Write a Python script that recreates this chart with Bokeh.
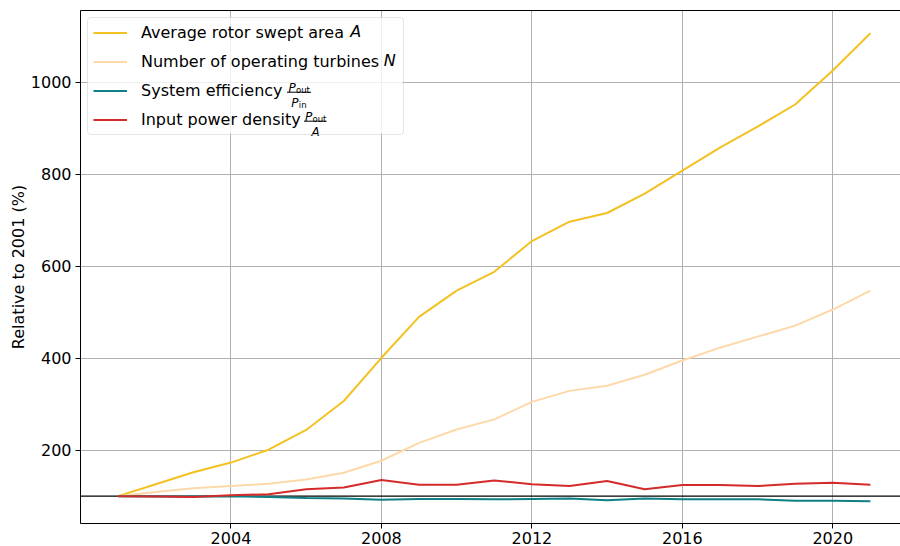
from bokeh.plotting import figure
from bokeh.models import (Range1d, FixedTicker, LinearAxis, Legend, LegendItem, Label, Arrow, Span,
                          BoxAnnotation)
from bokeh.embed import file_html
from bokeh.resources import INLINE

# ---------------- data ----------------
years = list(range(2001, 2022))
swept_area = [100, 126, 152, 173, 201, 244, 307, 401, 490, 547, 588, 655, 697, 716, 758, 808, 858, 904, 952, 1026, 1107]
turbines = [100, 109, 117, 122, 127, 136, 151, 177, 216, 245, 267, 305, 329, 340, 364, 395, 423, 447, 471, 506, 547]
efficiency = [100, 99, 99, 100, 98, 96, 95, 92, 94, 94, 93, 94, 95, 91, 95, 93, 93, 93, 90, 90, 89]
power_density = [100, 99, 98, 102, 104, 115, 119, 135, 125, 125, 134, 126, 122, 133, 115, 124, 124, 122, 127, 129, 125]
x_ticks = [2004, 2008, 2012, 2016, 2020]
y_ticks = [200, 400, 600, 800, 1000]
series_labels = ["Average rotor swept area", "Number of operating turbines",
                 "System efficiency", "Input power density"]
colors = ["#f3c121", "#fdd9a9", "#0f8086", "#d42a2a"]
y_label = "Relative to 2001 (%)"

# ---------------- layout ----------------
X0, X1 = 2000.0, 2021.8
Y0, Y1 = 40.5, 1156.5
W, H = 900, 546
FL, FT = 80, 10
FW = W - FL
FH = 513.5
FONT = "DejaVu Sans"


def dx(px):
    return X0 + px * (X1 - X0) / FW


def dy(py):
    return Y1 - py * (Y1 - Y0) / FH


p = figure(width=W, height=H, output_backend="svg", toolbar_location=None,
           x_range=Range1d(X0, X1), y_range=Range1d(Y0, Y1),
           min_border_left=FL, min_border_right=0, min_border_top=FT, min_border_bottom=0)
p.outline_line_color = None

bottom_axis = p.below[0]
left_axis = p.left[0]
bottom_axis.ticker = FixedTicker(ticks=x_ticks)
left_axis.ticker = FixedTicker(ticks=y_ticks)
p.xgrid.ticker = FixedTicker(ticks=x_ticks)
p.ygrid.ticker = FixedTicker(ticks=y_ticks)
for ax in (bottom_axis, left_axis):
    ax.major_tick_out = 5
    ax.major_tick_in = 0
    ax.minor_tick_out = 0
    ax.minor_tick_in = 0
    ax.axis_line_color = "black"
    ax.axis_line_width = 1
    ax.major_tick_line_color = "black"
    ax.major_label_text_font = FONT
    ax.major_label_text_font_size = "16px"
    ax.major_label_text_color = "black"
    ax.major_label_standoff = 4
bottom_axis.major_label_standoff = 3
left_axis.axis_label = y_label
left_axis.axis_label_text_font = FONT
left_axis.axis_label_text_font_size = "16px"
left_axis.axis_label_text_font_style = "normal"
left_axis.axis_label_text_color = "black"
left_axis.axis_label_standoff = 0

top_axis = LinearAxis(ticker=FixedTicker(ticks=[]), major_label_text_font_size="0px",
                      major_tick_out=0, major_tick_in=0, minor_tick_out=0, minor_tick_in=0,
                      major_label_standoff=0, axis_line_color="black", axis_line_width=1)
p.add_layout(top_axis, "above")

p.grid.grid_line_color = "#b0b0b0"
p.grid.grid_line_width = 1

p.add_layout(Span(location=100, dimension="width", line_color="black", line_width=1.3, level="underlay"))

renderers = []
for vals, col in zip([swept_area, turbines, efficiency, power_density], colors):
    renderers.append(p.line(years, vals, line_color=col, line_width=2))

MARGIN, PAD, GW, STANDOFF, ROWH, SPACING, LW = 7, 5, 34, 14, 19, 10, 257
LEG_W = PAD + GW + STANDOFF + LW + PAD
LEG_H = PAD + 4 * ROWH + 3 * SPACING + PAD

# semi-transparent legend background, drawn separately so the extra label parts stay on top
bg = BoxAnnotation(left=dx(MARGIN), right=dx(MARGIN + LEG_W), top=dy(MARGIN), bottom=dy(MARGIN + LEG_H),
                   fill_color="white", fill_alpha=0.8, line_color=None)
if "border_radius" in BoxAnnotation.properties():
    bg.border_radius = 4
p.add_layout(bg)

legend = Legend(items=[LegendItem(label=lab, renderers=[r]) for lab, r in zip(series_labels, renderers)],
                location="top_left", margin=MARGIN, padding=PAD, spacing=SPACING,
                glyph_width=GW, glyph_height=ROWH, label_height=ROWH, label_width=LW,
                label_standoff=STANDOFF, label_text_font=FONT, label_text_font_size="16px",
                label_text_color="black",
                border_line_color="#cccccc", border_line_width=1,
                background_fill_alpha=0.0)
if "border_radius" in Legend.properties():
    legend.border_radius = 4
p.add_layout(legend)

# extra math parts of the legend labels
TX = MARGIN + PAD + GW + STANDOFF
rows = [MARGIN + PAD + ROWH / 2 + i * (ROWH + SPACING) for i in range(4)]


def lab(px, py, text, size, style="normal", baseline="alphabetic"):
    p.add_layout(Label(x=dx(px), y=dy(py), text=text, text_font=FONT, text_font_size=size,
                       text_font_style=style, text_baseline=baseline, text_align="left",
                       text_color="black"))


def bar(px0, px1, py):
    p.add_layout(Arrow(x_start=dx(px0), y_start=dy(py), x_end=dx(px1), y_end=dy(py),
                       end=None, line_color="black", line_width=1))


lab(TX + 209.7, rows[0], "A", "16px", "italic", "middle")
lab(TX + 243.2, rows[1], "N", "16px", "italic", "middle")

# System efficiency  P_out / P_in
c = rows[2]
lab(TX + 148, c - 2, "P", "12px", "italic")
lab(TX + 155.5, c, "out", "8.5px")
bar(TX + 146.5, TX + 170.5, c + 2.3)
lab(TX + 150.8, c + 13, "P", "12px", "italic")
lab(TX + 158.3, c + 15, "in", "8.5px")

# Input power density  P_out / A
c = rows[3]
lab(TX + 164.5, c - 2, "P", "12px", "italic")
lab(TX + 172, c, "out", "8.5px")
bar(TX + 163.5, TX + 186, c + 2.3)
lab(TX + 170.9, c + 13, "A", "12px", "italic")

open("out.html", "w").write(file_html(p, INLINE))
